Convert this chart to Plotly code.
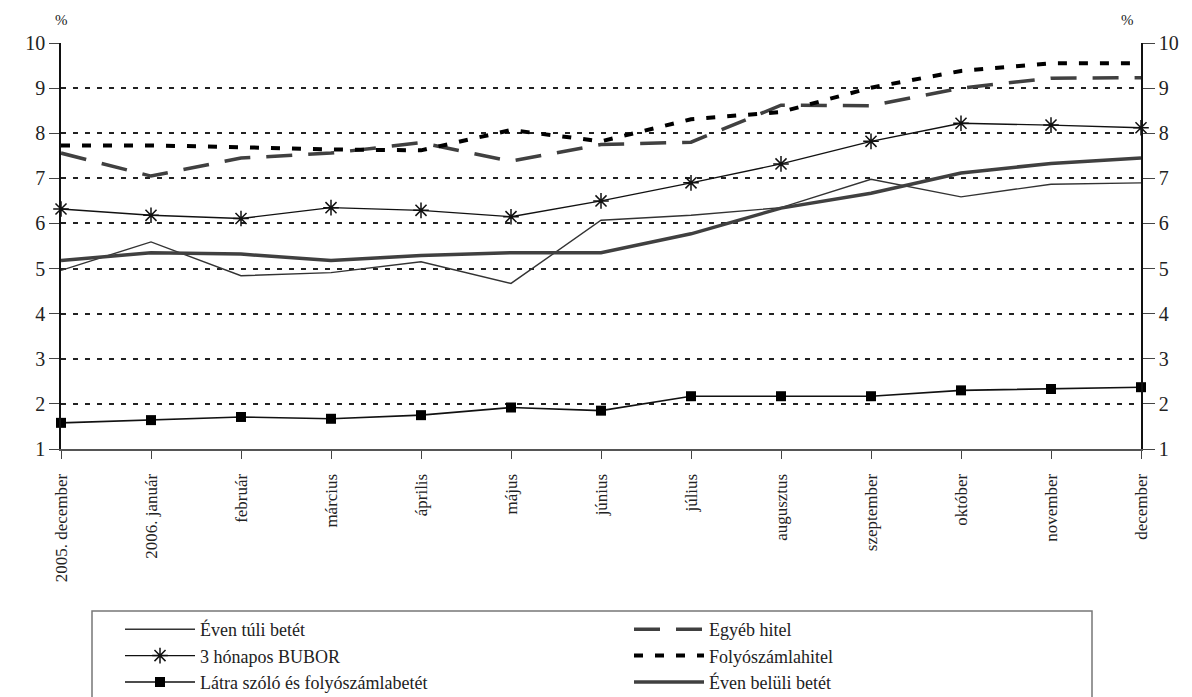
import plotly.graph_objects as go

# Monthly interest rates, %
months = ["2005. december", "2006. január", "február", "március", "április", "május",
          "június", "július", "augusztus", "szeptember", "október", "november", "december"]
even_tuli = [4.96, 5.59, 4.84, 4.91, 5.15, 4.67, 6.07, 6.18, 6.35, 6.98, 6.59, 6.87, 6.90]
bubor_3h = [6.32, 6.18, 6.11, 6.35, 6.29, 6.15, 6.50, 6.90, 7.32, 7.82, 8.22, 8.18, 8.12]
latra = [1.58, 1.64, 1.71, 1.67, 1.75, 1.92, 1.85, 2.17, 2.17, 2.17, 2.30, 2.33, 2.37]
egyeb_hitel = [7.56, 7.05, 7.45, 7.56, 7.79, 7.38, 7.75, 7.80, 8.62, 8.61, 9.00, 9.22, 9.23]
folyoszamlahitel = [7.73, 7.73, 7.69, 7.64, 7.62, 8.07, 7.82, 8.31, 8.47, 9.01, 9.38, 9.55, 9.55]
even_beluli = [5.18, 5.35, 5.32, 5.18, 5.29, 5.35, 5.35, 5.77, 6.34, 6.67, 7.12, 7.33, 7.45]

y_ticks = [1, 2, 3, 4, 5, 6, 7, 8, 9, 10]

FONT = "Liberation Serif"
W, H = 1192, 697
M_L, M_R, M_T, M_B = 61, 51, 43, 248
PLOT_W = W - M_L - M_R
PLOT_H = H - M_T - M_B


def px_x(px):
    """Horizontal pixel position -> paper coordinate."""
    return (px - M_L) / PLOT_W


def px_y(py):
    """Vertical pixel position (from top) -> paper coordinate."""
    return (H - M_B - py) / PLOT_H


fig = go.Figure()

# Order chosen so the two-column legend reads down each column
fig.add_trace(go.Scatter(x=months, y=even_tuli, name="Éven túli betét", mode="lines",
                         line=dict(color="#333333", width=1.4)))
fig.add_trace(go.Scatter(x=months, y=egyeb_hitel, name="Egyéb hitel", mode="lines",
                         line=dict(color="#404040", width=3.5, dash="26px,16px")))
fig.add_trace(go.Scatter(x=months, y=bubor_3h, name="3 hónapos BUBOR", mode="lines+markers",
                         line=dict(color="#111111", width=1.4),
                         marker=dict(symbol="asterisk-open", size=13,
                                     line=dict(color="#111111", width=1.5)),
                         cliponaxis=False))
fig.add_trace(go.Scatter(x=months, y=folyoszamlahitel, name="Folyószámlahitel", mode="lines",
                         line=dict(color="#000000", width=4, dash="9px,12px")))
fig.add_trace(go.Scatter(x=months, y=latra, name="Látra szóló és folyószámlabetét",
                         mode="lines+markers",
                         line=dict(color="#111111", width=1.6),
                         marker=dict(symbol="square", size=10, color="#000000"),
                         cliponaxis=False))
fig.add_trace(go.Scatter(x=months, y=even_beluli, name="Éven belüli betét", mode="lines",
                         line=dict(color="#404040", width=3.5)))

# Invisible trace to carry the right-hand axis
fig.add_trace(go.Scatter(x=[months[0]], y=[1], yaxis="y2", mode="markers",
                         marker=dict(opacity=0), showlegend=False, hoverinfo="skip"))

x_tick_font = dict(family=FONT, size=17, color="#222222")
y_tick_font = dict(family=FONT, size=20, color="#222222")

fig.update_layout(
    width=W, height=H,
    margin=dict(l=M_L, r=M_R, t=M_T, b=M_B, autoexpand=False),
    paper_bgcolor="white", plot_bgcolor="white",
    font=dict(family=FONT, size=16, color="#222222"),
    showlegend=True,
    xaxis=dict(
        type="category", range=[0, 12], tickangle=-90, tickfont=x_tick_font,
        showgrid=False, zeroline=False,
        showline=True, linecolor="#555555", linewidth=2,
        ticks="outside", ticklen=8, tickcolor="#444444", tickwidth=1,
        ticklabelstandoff=8,
    ),
    yaxis=dict(
        range=[1, 10], tickvals=y_ticks, tickfont=y_tick_font,
        showgrid=True, gridcolor="#222222", gridwidth=2, griddash="5px,7px",
        zeroline=False, showline=True, linecolor="#111111", linewidth=1.5,
        ticks="outside", ticklen=10, tickcolor="#444444", tickwidth=1,
    ),
    yaxis2=dict(
        range=[1, 10], tickvals=y_ticks, tickfont=y_tick_font, overlaying="y", side="right",
        showgrid=False, zeroline=False, showline=True, linecolor="#111111", linewidth=1.5,
        ticks="outside", ticklen=12, tickcolor="#444444", tickwidth=1,
    ),
    legend=dict(
        orientation="h", x=px_x(120), y=px_y(611), xanchor="left", yanchor="top",
        entrywidth=424, entrywidthmode="pixels", itemwidth=70,
        borderwidth=0, bgcolor="rgba(0,0,0,0)",
        font=dict(family=FONT, size=18, color="#222222"),
        traceorder="normal",
    ),
    shapes=[
        # frame around the legend, running off the bottom edge
        dict(type="rect", xref="paper", yref="paper",
             x0=px_x(92), x1=px_x(1092), y0=px_y(611), y1=px_y(720),
             line=dict(color="#777777", width=1.5), fillcolor="rgba(0,0,0,0)", layer="below"),
    ],
    annotations=[
        dict(text="%", xref="paper", yref="paper", x=0, y=1, yshift=13,
             xanchor="center", yanchor="bottom", showarrow=False,
             font=dict(family=FONT, size=15, color="#222222")),
        dict(text="%", xref="paper", yref="paper", x=1, y=1, yshift=13, xshift=-14,
             xanchor="center", yanchor="bottom", showarrow=False,
             font=dict(family=FONT, size=15, color="#222222")),
    ],
)

fig.write_html("out.html")
